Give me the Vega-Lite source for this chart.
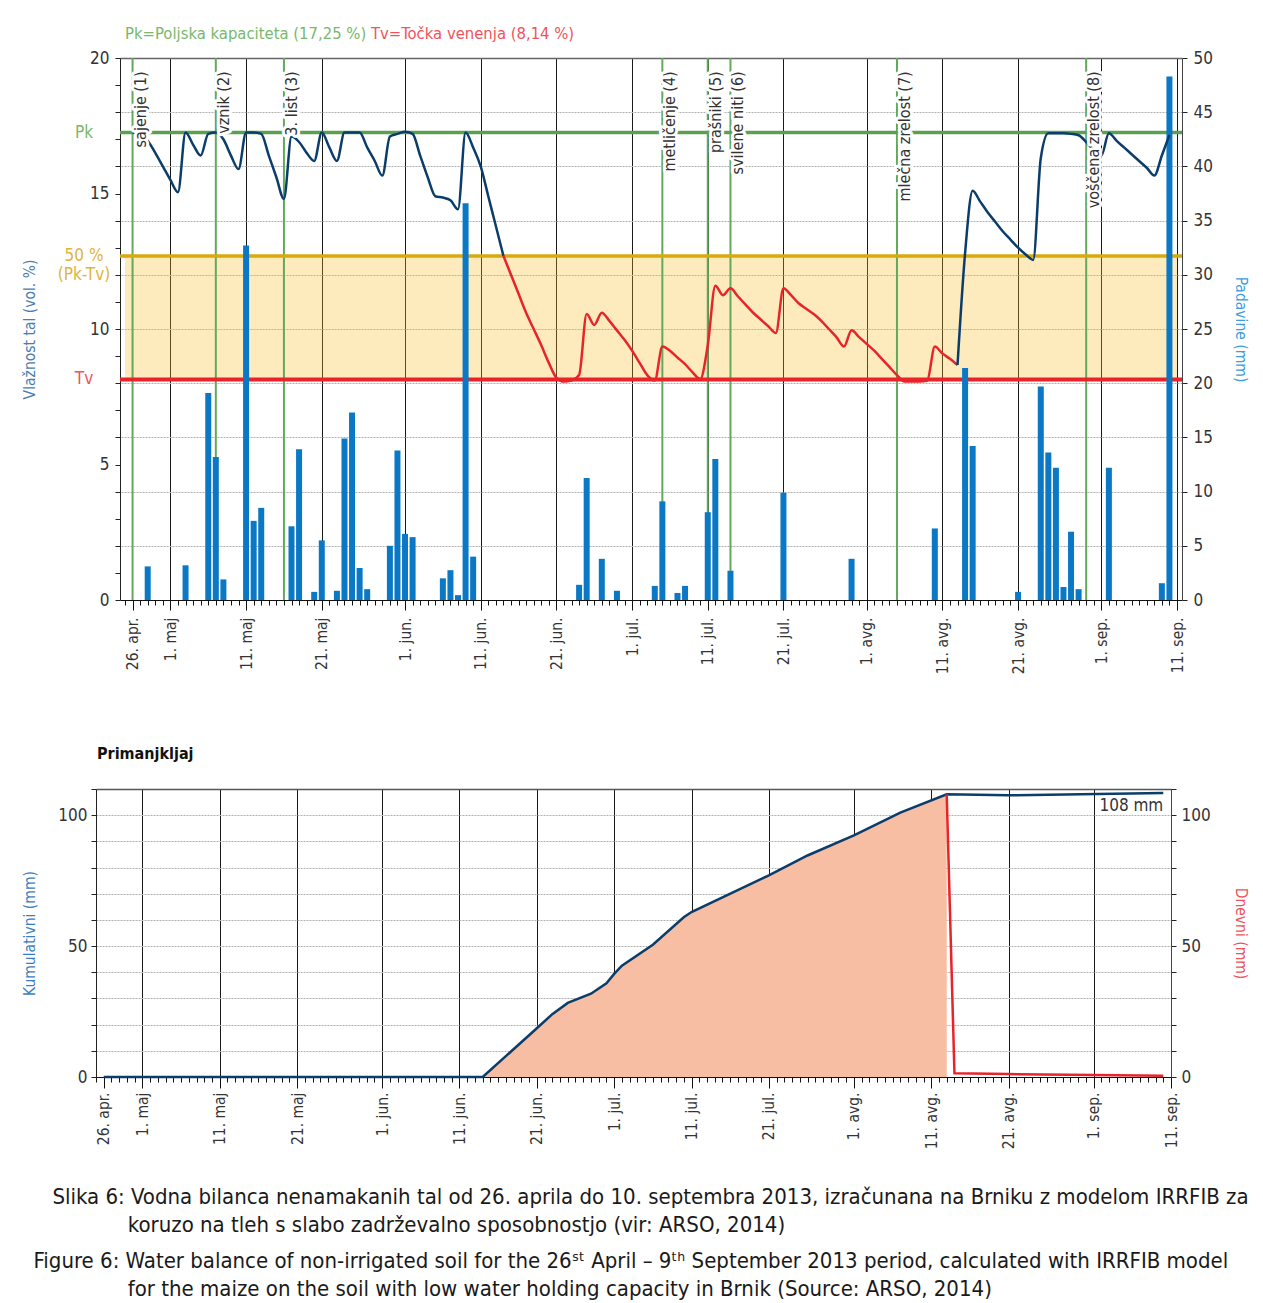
{
  "$schema": "https://vega.github.io/schema/vega-lite/v6.json",
  "padding": {"left": 22, "top": 25, "right": 0, "bottom": 0},
  "background": "#ffffff",
  "config": {
    "font": "DejaVu Sans Condensed, DejaVu Sans, sans-serif",
    "view": {"stroke": null},
    "axis": {"labelColor": "#333333", "labelFontSize": 15.5, "tickColor": "#222222", "domainColor": "#222222", "titleFontWeight": "normal", "titleFontSize": 15.5}
  },
  "datasets": {
    "vlaga": [
      {"dan": "2013-04-26", "vlaga": 17.25, "odsek": "A"}, {"dan": "2013-04-27", "vlaga": 17.2, "odsek": "A"},
      {"dan": "2013-04-28", "vlaga": 16.95, "odsek": "A"}, {"dan": "2013-04-29", "vlaga": 16.5, "odsek": "A"},
      {"dan": "2013-04-30", "vlaga": 16.0, "odsek": "A"}, {"dan": "2013-05-01", "vlaga": 15.5, "odsek": "A"},
      {"dan": "2013-05-02", "vlaga": 15.05, "odsek": "A"}, {"dan": "2013-05-03", "vlaga": 17.25, "odsek": "A"},
      {"dan": "2013-05-04", "vlaga": 16.8, "odsek": "A"}, {"dan": "2013-05-05", "vlaga": 16.4, "odsek": "A"},
      {"dan": "2013-05-06", "vlaga": 17.2, "odsek": "A"}, {"dan": "2013-05-07", "vlaga": 17.25, "odsek": "A"},
      {"dan": "2013-05-08", "vlaga": 17.0, "odsek": "A"}, {"dan": "2013-05-09", "vlaga": 16.4, "odsek": "A"},
      {"dan": "2013-05-10", "vlaga": 15.9, "odsek": "A"}, {"dan": "2013-05-11", "vlaga": 17.25, "odsek": "A"},
      {"dan": "2013-05-12", "vlaga": 17.25, "odsek": "A"}, {"dan": "2013-05-13", "vlaga": 17.2, "odsek": "A"},
      {"dan": "2013-05-14", "vlaga": 16.4, "odsek": "A"}, {"dan": "2013-05-15", "vlaga": 15.6, "odsek": "A"},
      {"dan": "2013-05-16", "vlaga": 14.8, "odsek": "A"}, {"dan": "2013-05-17", "vlaga": 17.1, "odsek": "A"},
      {"dan": "2013-05-18", "vlaga": 16.9, "odsek": "A"}, {"dan": "2013-05-19", "vlaga": 16.5, "odsek": "A"},
      {"dan": "2013-05-20", "vlaga": 16.2, "odsek": "A"}, {"dan": "2013-05-21", "vlaga": 17.25, "odsek": "A"},
      {"dan": "2013-05-22", "vlaga": 16.7, "odsek": "A"}, {"dan": "2013-05-23", "vlaga": 16.2, "odsek": "A"},
      {"dan": "2013-05-24", "vlaga": 17.25, "odsek": "A"}, {"dan": "2013-05-25", "vlaga": 17.25, "odsek": "A"},
      {"dan": "2013-05-26", "vlaga": 17.25, "odsek": "A"}, {"dan": "2013-05-27", "vlaga": 16.7, "odsek": "A"},
      {"dan": "2013-05-28", "vlaga": 16.2, "odsek": "A"}, {"dan": "2013-05-29", "vlaga": 15.66, "odsek": "A"},
      {"dan": "2013-05-30", "vlaga": 17.1, "odsek": "A"}, {"dan": "2013-05-31", "vlaga": 17.2, "odsek": "A"},
      {"dan": "2013-06-01", "vlaga": 17.28, "odsek": "A"}, {"dan": "2013-06-02", "vlaga": 17.2, "odsek": "A"},
      {"dan": "2013-06-03", "vlaga": 16.4, "odsek": "A"}, {"dan": "2013-06-04", "vlaga": 15.6, "odsek": "A"},
      {"dan": "2013-06-05", "vlaga": 14.9, "odsek": "A"}, {"dan": "2013-06-06", "vlaga": 14.85, "odsek": "A"},
      {"dan": "2013-06-07", "vlaga": 14.75, "odsek": "A"}, {"dan": "2013-06-08", "vlaga": 14.42, "odsek": "A"},
      {"dan": "2013-06-09", "vlaga": 17.25, "odsek": "A"}, {"dan": "2013-06-10", "vlaga": 16.7, "odsek": "A"},
      {"dan": "2013-06-11", "vlaga": 16.0, "odsek": "A"}, {"dan": "2013-06-12", "vlaga": 14.9, "odsek": "A"},
      {"dan": "2013-06-13", "vlaga": 13.8, "odsek": "A"}, {"dan": "2013-06-14", "vlaga": 12.7, "odsek": "A"},
      {"dan": "2013-06-14", "vlaga": 12.7, "odsek": "B"}, {"dan": "2013-06-15", "vlaga": 12.0, "odsek": "B"},
      {"dan": "2013-06-16", "vlaga": 11.3, "odsek": "B"}, {"dan": "2013-06-17", "vlaga": 10.6, "odsek": "B"},
      {"dan": "2013-06-18", "vlaga": 10.0, "odsek": "B"}, {"dan": "2013-06-19", "vlaga": 9.4, "odsek": "B"},
      {"dan": "2013-06-20", "vlaga": 8.75, "odsek": "B"}, {"dan": "2013-06-21", "vlaga": 8.2, "odsek": "B"},
      {"dan": "2013-06-22", "vlaga": 8.06, "odsek": "B"}, {"dan": "2013-06-23", "vlaga": 8.1, "odsek": "B"},
      {"dan": "2013-06-24", "vlaga": 8.3, "odsek": "B"}, {"dan": "2013-06-25", "vlaga": 10.55, "odsek": "B"},
      {"dan": "2013-06-26", "vlaga": 10.15, "odsek": "B"}, {"dan": "2013-06-27", "vlaga": 10.6, "odsek": "B"},
      {"dan": "2013-06-28", "vlaga": 10.3, "odsek": "B"}, {"dan": "2013-06-29", "vlaga": 9.95, "odsek": "B"},
      {"dan": "2013-06-30", "vlaga": 9.6, "odsek": "B"}, {"dan": "2013-07-01", "vlaga": 9.2, "odsek": "B"},
      {"dan": "2013-07-02", "vlaga": 8.75, "odsek": "B"}, {"dan": "2013-07-03", "vlaga": 8.3, "odsek": "B"},
      {"dan": "2013-07-04", "vlaga": 8.1, "odsek": "B"}, {"dan": "2013-07-05", "vlaga": 9.35, "odsek": "B"},
      {"dan": "2013-07-06", "vlaga": 9.2, "odsek": "B"}, {"dan": "2013-07-07", "vlaga": 8.95, "odsek": "B"},
      {"dan": "2013-07-08", "vlaga": 8.7, "odsek": "B"}, {"dan": "2013-07-09", "vlaga": 8.4, "odsek": "B"},
      {"dan": "2013-07-10", "vlaga": 8.15, "odsek": "B"}, {"dan": "2013-07-11", "vlaga": 9.4, "odsek": "B"},
      {"dan": "2013-07-12", "vlaga": 11.6, "odsek": "B"}, {"dan": "2013-07-13", "vlaga": 11.25, "odsek": "B"},
      {"dan": "2013-07-14", "vlaga": 11.5, "odsek": "B"}, {"dan": "2013-07-15", "vlaga": 11.2, "odsek": "B"},
      {"dan": "2013-07-16", "vlaga": 10.9, "odsek": "B"}, {"dan": "2013-07-17", "vlaga": 10.6, "odsek": "B"},
      {"dan": "2013-07-18", "vlaga": 10.35, "odsek": "B"}, {"dan": "2013-07-19", "vlaga": 10.1, "odsek": "B"},
      {"dan": "2013-07-20", "vlaga": 9.85, "odsek": "B"}, {"dan": "2013-07-21", "vlaga": 11.5, "odsek": "B"},
      {"dan": "2013-07-22", "vlaga": 11.25, "odsek": "B"}, {"dan": "2013-07-23", "vlaga": 10.95, "odsek": "B"},
      {"dan": "2013-07-24", "vlaga": 10.75, "odsek": "B"}, {"dan": "2013-07-25", "vlaga": 10.55, "odsek": "B"},
      {"dan": "2013-07-26", "vlaga": 10.3, "odsek": "B"}, {"dan": "2013-07-27", "vlaga": 10.0, "odsek": "B"},
      {"dan": "2013-07-28", "vlaga": 9.7, "odsek": "B"}, {"dan": "2013-07-29", "vlaga": 9.35, "odsek": "B"},
      {"dan": "2013-07-30", "vlaga": 9.95, "odsek": "B"}, {"dan": "2013-07-31", "vlaga": 9.7, "odsek": "B"},
      {"dan": "2013-08-01", "vlaga": 9.45, "odsek": "B"}, {"dan": "2013-08-02", "vlaga": 9.2, "odsek": "B"},
      {"dan": "2013-08-03", "vlaga": 8.9, "odsek": "B"}, {"dan": "2013-08-04", "vlaga": 8.6, "odsek": "B"},
      {"dan": "2013-08-05", "vlaga": 8.3, "odsek": "B"}, {"dan": "2013-08-06", "vlaga": 8.06, "odsek": "B"},
      {"dan": "2013-08-07", "vlaga": 8.06, "odsek": "B"}, {"dan": "2013-08-08", "vlaga": 8.06, "odsek": "B"},
      {"dan": "2013-08-09", "vlaga": 8.1, "odsek": "B"}, {"dan": "2013-08-10", "vlaga": 9.35, "odsek": "B"},
      {"dan": "2013-08-11", "vlaga": 9.1, "odsek": "B"}, {"dan": "2013-08-12", "vlaga": 8.9, "odsek": "B"},
      {"dan": "2013-08-13", "vlaga": 8.67, "odsek": "B"},
      {"dan": "2013-08-13", "vlaga": 8.67, "odsek": "C"}, {"dan": "2013-08-14", "vlaga": 12.8, "odsek": "C"},
      {"dan": "2013-08-15", "vlaga": 15.1, "odsek": "C"}, {"dan": "2013-08-16", "vlaga": 14.7, "odsek": "C"},
      {"dan": "2013-08-17", "vlaga": 14.3, "odsek": "C"}, {"dan": "2013-08-18", "vlaga": 13.95, "odsek": "C"},
      {"dan": "2013-08-19", "vlaga": 13.6, "odsek": "C"}, {"dan": "2013-08-20", "vlaga": 13.3, "odsek": "C"},
      {"dan": "2013-08-21", "vlaga": 13.0, "odsek": "C"}, {"dan": "2013-08-22", "vlaga": 12.75, "odsek": "C"},
      {"dan": "2013-08-23", "vlaga": 12.55, "odsek": "C"}, {"dan": "2013-08-24", "vlaga": 16.3, "odsek": "C"},
      {"dan": "2013-08-25", "vlaga": 17.22, "odsek": "C"}, {"dan": "2013-08-26", "vlaga": 17.22, "odsek": "C"},
      {"dan": "2013-08-27", "vlaga": 17.22, "odsek": "C"}, {"dan": "2013-08-28", "vlaga": 17.2, "odsek": "C"},
      {"dan": "2013-08-29", "vlaga": 17.15, "odsek": "C"}, {"dan": "2013-08-30", "vlaga": 16.9, "odsek": "C"},
      {"dan": "2013-08-31", "vlaga": 16.6, "odsek": "C"}, {"dan": "2013-09-01", "vlaga": 16.4, "odsek": "C"},
      {"dan": "2013-09-02", "vlaga": 17.22, "odsek": "C"}, {"dan": "2013-09-03", "vlaga": 16.95, "odsek": "C"},
      {"dan": "2013-09-04", "vlaga": 16.7, "odsek": "C"}, {"dan": "2013-09-05", "vlaga": 16.45, "odsek": "C"},
      {"dan": "2013-09-06", "vlaga": 16.2, "odsek": "C"}, {"dan": "2013-09-07", "vlaga": 15.95, "odsek": "C"},
      {"dan": "2013-09-08", "vlaga": 15.66, "odsek": "C"}, {"dan": "2013-09-09", "vlaga": 16.4, "odsek": "C"},
      {"dan": "2013-09-10", "vlaga": 17.16, "odsek": "C"}
    ],
    "padavine": [
      {"dan": "2013-04-28", "mm": 3.1}, {"dan": "2013-05-03", "mm": 3.2}, {"dan": "2013-05-06", "mm": 19.1},
      {"dan": "2013-05-07", "mm": 13.2}, {"dan": "2013-05-08", "mm": 1.9}, {"dan": "2013-05-11", "mm": 32.7},
      {"dan": "2013-05-12", "mm": 7.3}, {"dan": "2013-05-13", "mm": 8.5}, {"dan": "2013-05-17", "mm": 6.8},
      {"dan": "2013-05-18", "mm": 13.9}, {"dan": "2013-05-20", "mm": 0.75}, {"dan": "2013-05-21", "mm": 5.5},
      {"dan": "2013-05-23", "mm": 0.85}, {"dan": "2013-05-24", "mm": 14.9}, {"dan": "2013-05-25", "mm": 17.3},
      {"dan": "2013-05-26", "mm": 2.95}, {"dan": "2013-05-27", "mm": 1.0}, {"dan": "2013-05-30", "mm": 5.0},
      {"dan": "2013-05-31", "mm": 13.8}, {"dan": "2013-06-01", "mm": 6.1}, {"dan": "2013-06-02", "mm": 5.8},
      {"dan": "2013-06-06", "mm": 2.0}, {"dan": "2013-06-07", "mm": 2.75}, {"dan": "2013-06-08", "mm": 0.45},
      {"dan": "2013-06-09", "mm": 36.6}, {"dan": "2013-06-10", "mm": 4.0}, {"dan": "2013-06-24", "mm": 1.4},
      {"dan": "2013-06-25", "mm": 11.25}, {"dan": "2013-06-27", "mm": 3.8}, {"dan": "2013-06-29", "mm": 0.85},
      {"dan": "2013-07-04", "mm": 1.3}, {"dan": "2013-07-05", "mm": 9.1}, {"dan": "2013-07-07", "mm": 0.65},
      {"dan": "2013-07-08", "mm": 1.3}, {"dan": "2013-07-11", "mm": 8.1}, {"dan": "2013-07-12", "mm": 13.0},
      {"dan": "2013-07-14", "mm": 2.7}, {"dan": "2013-07-21", "mm": 9.9}, {"dan": "2013-07-30", "mm": 3.8},
      {"dan": "2013-08-10", "mm": 6.6}, {"dan": "2013-08-14", "mm": 21.4}, {"dan": "2013-08-15", "mm": 14.2},
      {"dan": "2013-08-21", "mm": 0.75}, {"dan": "2013-08-24", "mm": 19.7}, {"dan": "2013-08-25", "mm": 13.6},
      {"dan": "2013-08-26", "mm": 12.2}, {"dan": "2013-08-27", "mm": 1.2}, {"dan": "2013-08-28", "mm": 6.3},
      {"dan": "2013-08-29", "mm": 1.0}, {"dan": "2013-09-02", "mm": 12.2}, {"dan": "2013-09-09", "mm": 1.55},
      {"dan": "2013-09-10", "mm": 48.3}
    ],
    "fenofaze": [
      {"dan": "2013-04-26", "faza": "sajenje (1)"}, {"dan": "2013-05-07", "faza": "vznik (2)"},
      {"dan": "2013-05-16", "faza": "3. list (3)"}, {"dan": "2013-07-05", "faza": "metličenje (4)"},
      {"dan": "2013-07-11", "faza": "prašniki (5)"}, {"dan": "2013-07-14", "faza": "svilene niti (6)"},
      {"dan": "2013-08-05", "faza": "mlečna zrelost (7)"}, {"dan": "2013-08-30", "faza": "voščena zrelost (8)"}
    ],
    "pragovi": [
      {"prag": "Pk", "oznaka": "Pk", "vlaga": 17.25},
      {"prag": "pol", "oznaka": "50 %\n(Pk-Tv)", "vlaga": 12.695},
      {"prag": "Tv", "oznaka": "Tv", "vlaga": 8.14}
    ],
    "primanjkljaj": [
      {"dan": "2013-04-26", "kumulativni": 0}, {"dan": "2013-06-14", "kumulativni": 0},
      {"dan": "2013-06-21", "kumulativni": 18.6}, {"dan": "2013-06-23", "kumulativni": 24.0},
      {"dan": "2013-06-25", "kumulativni": 28.3}, {"dan": "2013-06-28", "kumulativni": 31.8},
      {"dan": "2013-06-30", "kumulativni": 35.8}, {"dan": "2013-07-01", "kumulativni": 39.4},
      {"dan": "2013-07-02", "kumulativni": 42.5}, {"dan": "2013-07-06", "kumulativni": 50.5},
      {"dan": "2013-07-10", "kumulativni": 61.0}, {"dan": "2013-07-11", "kumulativni": 63.0},
      {"dan": "2013-07-21", "kumulativni": 77.0}, {"dan": "2013-07-26", "kumulativni": 84.6},
      {"dan": "2013-08-01", "kumulativni": 92.3}, {"dan": "2013-08-07", "kumulativni": 101.0},
      {"dan": "2013-08-13", "kumulativni": 108.0}, {"dan": "2013-08-21", "kumulativni": 107.6},
      {"dan": "2013-09-10", "kumulativni": 108.5}
    ],
    "dnevni": [
      {"dan": "2013-08-13", "dnevni": 108.0}, {"dan": "2013-08-14", "dnevni": 1.4},
      {"dan": "2013-08-21", "dnevni": 1.1}, {"dan": "2013-09-01", "dnevni": 0.8},
      {"dan": "2013-09-10", "dnevni": 0.5}
    ]
  },
  "title": {
    "text": [
      "\u200b\u00a0\u00a0\u00a0Slika 6: Vodna bilanca nenamakanih tal od 26. aprila do 10. septembra 2013, izračunana na Brniku z modelom IRRFIB za",
      "\u200b\u00a0\u00a0\u00a0\u00a0\u00a0\u00a0\u00a0\u00a0\u00a0\u00a0\u00a0\u00a0\u00a0\u00a0\u00a0koruzo na tleh s slabo zadrževalno sposobnostjo (vir: ARSO, 2014)"
    ],
    "subtitle": [
      "Figure 6: Water balance of non-irrigated soil for the 26ˢᵗ April – 9ᵗʰ September 2013 period, calculated with IRRFIB model",
      "\u200b\u00a0\u00a0\u00a0\u00a0\u00a0\u00a0\u00a0\u00a0\u00a0\u00a0\u00a0\u00a0\u00a0\u00a0\u00a0for the maize on the soil with low water holding capacity in Brnik (Source: ARSO, 2014)"
    ],
    "orient": "bottom",
    "anchor": "start",
    "frame": "bounds",
    "dx": 11,
    "offset": 38,
    "fontSize": 22,
    "subtitleFontSize": 22,
    "lineHeight": 28,
    "subtitleLineHeight": 28,
    "subtitlePadding": 14,
    "fontWeight": "normal",
    "color": "#1a1a1a",
    "subtitleColor": "#1a1a1a"
  },
  "spacing": 71,
  "vconcat": [
    {
      "width": 1062,
      "height": 542,
      "layer": [
        {
          "data": {"name": "pragovi"},
          "transform": [{"pivot": "prag", "value": "vlaga"}],
          "mark": {"type": "rect", "color": "#f8b923", "opacity": 0.3},
          "encoding": {
            "x": {"datum": {"year": 2013, "month": 4, "date": 25, "utc": true}, "type": "temporal",
              "scale": {"type": "utc", "domain": [{"year": 2013, "month": 4, "date": 25, "utc": true}, {"year": 2013, "month": 9, "date": 11, "utc": true}]}, "axis": null},
            "x2": {"datum": {"year": 2013, "month": 9, "date": 11, "utc": true}},
            "y": {"field": "pol", "type": "quantitative", "scale": {"domain": [0, 20]}, "axis": null},
            "y2": {"field": "Tv"}
          }
        },
        {
          "data": {"name": "fenofaze"},
          "mark": {"type": "rule", "color": "#62a95b", "strokeWidth": 2},
          "encoding": {
            "x": {
              "field": "dan", "type": "temporal",
              "scale": {"type": "utc", "domain": [{"year": 2013, "month": 4, "date": 25, "utc": true}, {"year": 2013, "month": 9, "date": 11, "utc": true}]},
              "axis": {
                "orient": "bottom", "title": null,
                "values": [{"year": 2013, "month": 4, "date": 26, "utc": true}, {"year": 2013, "month": 5, "date": 1, "utc": true}, {"year": 2013, "month": 5, "date": 11, "utc": true}, {"year": 2013, "month": 5, "date": 21, "utc": true}, {"year": 2013, "month": 6, "date": 1, "utc": true}, {"year": 2013, "month": 6, "date": 11, "utc": true}, {"year": 2013, "month": 6, "date": 21, "utc": true}, {"year": 2013, "month": 7, "date": 1, "utc": true}, {"year": 2013, "month": 7, "date": 11, "utc": true}, {"year": 2013, "month": 7, "date": 21, "utc": true}, {"year": 2013, "month": 8, "date": 1, "utc": true}, {"year": 2013, "month": 8, "date": 11, "utc": true}, {"year": 2013, "month": 8, "date": 21, "utc": true}, {"year": 2013, "month": 9, "date": 1, "utc": true}, {"year": 2013, "month": 9, "date": 11, "utc": true}],
                "labelExpr": "utcdate(datum.value) + '. ' + ['jan.','feb.','mar.','apr.','maj','jun.','jul.','avg.','sep.','okt.','nov.','dec.'][utcmonth(datum.value)]",
                "labelAngle": 270, "labelAlign": "right", "labelBaseline": "middle",
                "labelPadding": 7, "labelFontSize": 15.5, "labelFlush": false, "labelOverlap": false,
                "tickSize": 10, "tickColor": "#111111", "domainColor": "#111111", "domainWidth": 1.2,
                "grid": true, "gridColor": "#1a1a1a", "gridWidth": 1,
                "gridOpacity": {"condition": {"test": "utcmonth(datum.value) == 3", "value": 0}, "value": 1}
              }
            }
          }
        },
        {
          "data": {"name": "pragovi"},
          "transform": [{"filter": "datum.prag == 'Pk'"}],
          "mark": {"type": "rule", "color": "#5b9f50", "strokeWidth": 3.5},
          "encoding": {
            "y": {
              "field": "vlaga", "type": "quantitative", "scale": {"domain": [0, 20]},
              "axis": {
                "orient": "left", "title": "Vlažnost tal (vol. %)", "titleColor": "#4a7db0", "titlePadding": 52,
                "values": [0, 1, 2, 3, 4, 5, 6, 7, 8, 9, 10, 11, 12, 13, 14, 15, 16, 17, 18, 19, 20],
                "labelExpr": "datum.value % 5 == 0 ? datum.label : ''",
                "labelFontSize": 17, "labelPadding": 6, "tickSize": 5, "grid": false, "domainColor": "#222222"
              }
            }
          }
        },
        {
          "data": {"name": "pragovi"},
          "transform": [{"filter": "datum.prag == 'pol'"}],
          "mark": {"type": "rule", "color": "#d8aa0e", "strokeWidth": 3.5},
          "encoding": {"y": {"field": "vlaga", "type": "quantitative", "scale": {"domain": [0, 20]}, "axis": null}}
        },
        {
          "data": {"name": "pragovi"},
          "transform": [{"filter": "datum.prag == 'Tv'"}],
          "mark": {"type": "rule", "color": "#ea2229", "strokeWidth": 4},
          "encoding": {"y": {"field": "vlaga", "type": "quantitative", "scale": {"domain": [0, 20]}, "axis": null}}
        },
        {
          "data": {"name": "padavine"},
          "mark": {"type": "bar", "color": "#0a78c4", "width": 6},
          "encoding": {
            "x": {
              "field": "dan", "type": "temporal",
              "scale": {"type": "utc", "domain": [{"year": 2013, "month": 4, "date": 25, "utc": true}, {"year": 2013, "month": 9, "date": 11, "utc": true}]},
              "axis": {"orient": "bottom", "title": null, "tickCount": {"interval": "day", "step": 1}, "labels": false, "domain": false, "grid": false, "tickSize": 5, "tickColor": "#111111"}
            },
            "y": {
              "field": "mm", "type": "quantitative", "scale": {"domain": [0, 50]},
              "axis": {
                "orient": "right", "title": "Padavine (mm)", "titleColor": "#3d9ddc", "titlePadding": 20,
                "values": [0, 5, 10, 15, 20, 25, 30, 35, 40, 45, 50],
                "labelFontSize": 17, "labelPadding": 6, "tickSize": 5, "domainColor": "#444444",
                "grid": true,
                "gridColor": {"condition": {"test": "datum.value == 50", "value": "#666666"}, "value": "#b0b0b0"},
                "gridDash": {"condition": {"test": "datum.value == 50", "value": [1, 0]}, "value": [2, 1]},
                "gridWidth": {"condition": {"test": "datum.value == 50", "value": 1.5}, "value": 1}
              }
            }
          }
        },
        {
          "data": {"name": "vlaga"},
          "mark": {"type": "line", "strokeWidth": 2.5, "interpolate": "monotone"},
          "encoding": {
            "x": {"field": "dan", "type": "temporal", "scale": {"type": "utc", "domain": [{"year": 2013, "month": 4, "date": 25, "utc": true}, {"year": 2013, "month": 9, "date": 11, "utc": true}]}, "axis": null},
            "y": {"field": "vlaga", "type": "quantitative", "scale": {"domain": [0, 20]}, "axis": null},
            "stroke": {"field": "odsek", "type": "nominal", "scale": {"domain": ["A", "B", "C"], "range": ["#0b3d6b", "#e8242b", "#0b3d6b"]}, "legend": null}
          }
        },
        {
          "data": {"name": "fenofaze"},
          "mark": {"type": "text", "angle": 270, "align": "right", "baseline": "top", "dx": 3, "fontSize": 16, "color": "#ffffff", "stroke": "#ffffff", "strokeWidth": 6, "strokeJoin": "round"},
          "encoding": {
            "x": {"field": "dan", "type": "temporal", "axis": null},
            "y": {"datum": 19.4, "scale": {"domain": [0, 20]}, "axis": null},
            "text": {"field": "faza"}
          }
        },
        {
          "data": {"name": "fenofaze"},
          "mark": {"type": "text", "angle": 270, "align": "right", "baseline": "top", "dx": 3, "fontSize": 16, "color": "#333333"},
          "encoding": {
            "x": {"field": "dan", "type": "temporal", "axis": null},
            "y": {"datum": 19.4, "scale": {"domain": [0, 20]}, "axis": null},
            "text": {"field": "faza"}
          }
        },
        {
          "data": {"name": "pragovi"},
          "mark": {"type": "text", "align": "center", "baseline": "middle", "dx": -41, "fontSize": 17, "lineBreak": "\n", "lineHeight": 19},
          "encoding": {
            "x": {"datum": {"year": 2013, "month": 4, "date": 25, "utc": true}, "type": "temporal", "axis": null},
            "y": {"field": "vlaga", "type": "quantitative", "scale": {"domain": [0, 20]}, "axis": null},
            "text": {"field": "oznaka"},
            "fill": {"field": "prag", "type": "nominal", "scale": {"domain": ["Pk", "pol", "Tv"], "range": ["#78b86b", "#e0b43c", "#f0535b"]}, "legend": null}
          }
        },
        {
          "data": {"values": [{"tekst": "Pk=Poljska kapaciteta (17,25 %)"}]},
          "mark": {"type": "text", "align": "left", "baseline": "middle", "fontSize": 16.5, "color": "#78b86b"},
          "encoding": {
            "x": {"datum": {"year": 2013, "month": 4, "date": 25, "utc": true}, "type": "temporal", "axis": null},
            "y": {"datum": 20.9, "scale": {"domain": [0, 20]}, "axis": null},
            "text": {"field": "tekst"}
          }
        },
        {
          "data": {"values": [{"tekst": "Tv=Točka venenja (8,14 %)"}]},
          "mark": {"type": "text", "align": "left", "baseline": "middle", "dx": 246, "fontSize": 16.5, "color": "#f0535b"},
          "encoding": {
            "x": {"datum": {"year": 2013, "month": 4, "date": 25, "utc": true}, "type": "temporal", "axis": null},
            "y": {"datum": 20.9, "scale": {"domain": [0, 20]}, "axis": null},
            "text": {"field": "tekst"}
          }
        }
      ],
      "resolve": {"scale": {"y": "independent"}, "axis": {"x": "independent", "y": "independent"}}
    },
    {
      "width": 1051,
      "height": 288,
      "title": {"text": "Primanjkljaj", "anchor": "start", "frame": "group", "dx": -23, "fontSize": 16, "fontWeight": "bold", "color": "#111111", "offset": 26},
      "layer": [
        {
          "data": {"name": "primanjkljaj"},
          "transform": [{"filter": {"field": "dan", "lte": {"year": 2013, "month": 8, "date": 13, "utc": true}}}],
          "mark": {"type": "area", "color": "#f8bea4", "opacity": 1},
          "encoding": {
            "x": {
              "field": "dan", "type": "temporal",
              "scale": {"type": "utc", "domain": [{"year": 2013, "month": 4, "date": 25, "utc": true}, {"year": 2013, "month": 9, "date": 11, "utc": true}], "range": [-24, 1051]},
              "axis": {
                "orient": "bottom", "title": null,
                "values": [{"year": 2013, "month": 4, "date": 26, "utc": true}, {"year": 2013, "month": 5, "date": 1, "utc": true}, {"year": 2013, "month": 5, "date": 11, "utc": true}, {"year": 2013, "month": 5, "date": 21, "utc": true}, {"year": 2013, "month": 6, "date": 1, "utc": true}, {"year": 2013, "month": 6, "date": 11, "utc": true}, {"year": 2013, "month": 6, "date": 21, "utc": true}, {"year": 2013, "month": 7, "date": 1, "utc": true}, {"year": 2013, "month": 7, "date": 11, "utc": true}, {"year": 2013, "month": 7, "date": 21, "utc": true}, {"year": 2013, "month": 8, "date": 1, "utc": true}, {"year": 2013, "month": 8, "date": 11, "utc": true}, {"year": 2013, "month": 8, "date": 21, "utc": true}, {"year": 2013, "month": 9, "date": 1, "utc": true}, {"year": 2013, "month": 9, "date": 11, "utc": true}],
                "labelExpr": "utcdate(datum.value) + '. ' + ['jan.','feb.','mar.','apr.','maj','jun.','jul.','avg.','sep.','okt.','nov.','dec.'][utcmonth(datum.value)]",
                "labelAngle": 270, "labelAlign": "right", "labelBaseline": "middle",
                "labelPadding": 4, "labelFontSize": 15.5, "labelFlush": false, "labelOverlap": false,
                "tickSize": 11, "tickColor": "#111111", "domainColor": "#111111", "domainWidth": 1.2,
                "grid": true, "gridColor": "#1a1a1a", "gridWidth": 1,
                "gridOpacity": {"condition": {"test": "utcmonth(datum.value) == 3", "value": 0}, "value": 1}
              }
            },
            "y": {
              "field": "kumulativni", "type": "quantitative", "scale": {"domain": [0, 110]},
              "axis": {
                "orient": "left", "offset": 24, "title": "Kumulativni (mm)", "titleColor": "#3a7fc0", "titlePadding": 20,
                "values": [0, 10, 20, 30, 40, 50, 60, 70, 80, 90, 100, 110],
                "labelExpr": "datum.value % 50 == 0 ? datum.label : ''",
                "labelFontSize": 17, "labelPadding": 4, "tickSize": 5, "domainColor": "#222222",
                "grid": true,
                "gridColor": {"condition": {"test": "datum.value == 110", "value": "#555555"}, "value": "#b0b0b0"},
                "gridDash": {"condition": {"test": "datum.value == 110", "value": [1, 0]}, "value": [2, 1]},
                "gridWidth": {"condition": {"test": "datum.value == 110", "value": 1.5}, "value": 1}
              }
            }
          }
        },
        {
          "data": {"name": "primanjkljaj"},
          "mark": {"type": "line", "color": "#0b3d6b", "strokeWidth": 2.5},
          "encoding": {
            "x": {"field": "dan", "type": "temporal", "axis": null},
            "y": {"field": "kumulativni", "type": "quantitative", "axis": null}
          }
        },
        {
          "data": {"name": "dnevni"},
          "mark": {"type": "line", "color": "#e8242b", "strokeWidth": 2.5},
          "encoding": {
            "x": {"field": "dan", "type": "temporal",
              "axis": {"orient": "bottom", "title": null, "tickCount": {"interval": "day", "step": 1}, "labels": false, "domain": false, "grid": false, "tickSize": 5, "tickColor": "#111111"}},
            "y": {"field": "dnevni", "type": "quantitative",
              "axis": {
                "orient": "right", "title": "Dnevni (mm)", "titleColor": "#f0525a", "titlePadding": 22,
                "values": [0, 10, 20, 30, 40, 50, 60, 70, 80, 90, 100, 110],
                "labelExpr": "datum.value % 50 == 0 ? datum.label : ''",
                "labelFontSize": 17, "labelPadding": 5, "tickSize": 5, "domainColor": "#444444", "grid": false
              }}
          }
        },
        {
          "data": {"values": [{"tekst": "108 mm"}]},
          "mark": {"type": "text", "align": "right", "baseline": "middle", "fontSize": 17, "color": "#333333"},
          "encoding": {
            "x": {"datum": {"year": 2013, "month": 9, "date": 10, "utc": true}, "type": "temporal", "axis": null},
            "y": {"datum": 103.5, "axis": null},
            "text": {"field": "tekst"}
          }
        }
      ],
      "resolve": {"axis": {"x": "independent", "y": "independent"}}
    }
  ]
}
